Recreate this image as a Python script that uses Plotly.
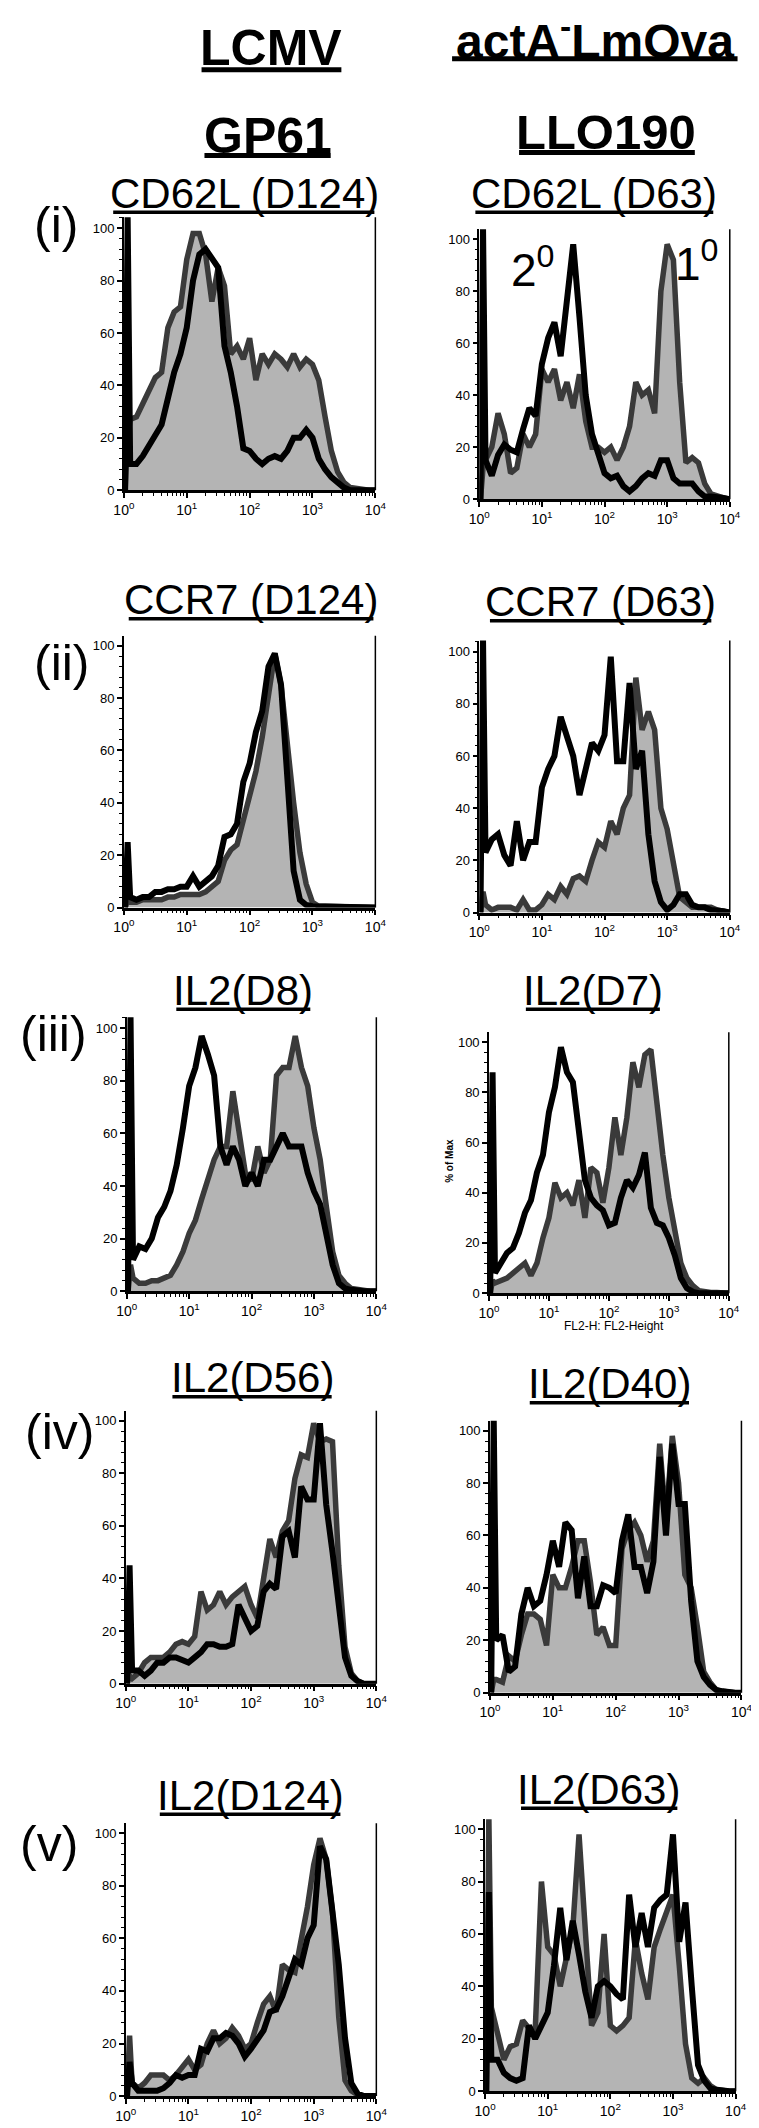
import plotly.graph_objects as go

W, H = 759, 2128
FONT = "Liberation Sans, Arial, Helvetica, sans-serif"

# ---------------- data ----------------
# positions on the log10 axis (decades) shared by all histograms
LOG_X = [0.02, 0.06, 0.1, 0.2, 0.3, 0.4, 0.5, 0.6, 0.7, 0.8, 0.9, 1.0,
         1.1, 1.2, 1.3, 1.4, 1.5, 1.6, 1.7, 1.8, 1.9, 2.0,
         2.1, 2.2, 2.3, 2.4, 2.5, 2.6, 2.7, 2.8, 2.9, 3.0,
         3.1, 3.2, 3.3, 3.4, 3.5, 3.6, 3.7, 3.8, 3.9, 4.0]

# (i) CD62L (D124)
p1_primary = [0, 20, 27, 28, 33, 38, 43, 45, 62, 68, 70, 88, 98, 98, 90, 72, 85, 78, 52, 55, 50, 58,
              42, 52, 48, 52, 50, 47, 52, 47, 50, 48, 42, 28, 15, 7, 3, 1, 0.5, 0, 0, 0]
p1_secondary = [0, 105, 10, 10, 13, 17, 20, 25, 35, 45, 52, 62, 80, 90, 92, 88, 85, 55, 45, 32, 16, 15,
                12, 10, 12, 13, 12, 15, 20, 20, 23, 20, 12, 8, 5, 3, 1, 0, 0, 0, 0, 0]
# (i) CD62L (D63)
p2_primary = [0, 12, 15, 20, 33, 25, 10, 12, 25, 20, 25, 50, 45, 50, 38, 45, 35, 48, 30, 20, 20, 18,
              20, 15, 20, 28, 45, 40, 42, 33, 80, 98, 92, 45, 14, 16, 14, 6, 2, 1, 0.5, 0]
p2_secondary = [0, 105, 15, 9, 17, 21, 19, 18, 27, 35, 32, 52, 62, 68, 55, 78, 98, 70, 40, 25, 18, 10,
                8, 9, 5, 3, 5, 8, 10, 9, 15, 15, 8, 6, 6, 6, 3, 1, 1, 1, 0.5, 0]
# (ii) CCR7 (D124)
p3_primary = [0, 3, 2, 2, 3, 3, 3, 3, 4, 4, 5, 5, 5, 5, 6, 8, 10, 18, 22, 24, 33, 42,
              52, 65, 82, 97, 85, 60, 40, 21, 9, 2, 0.5, 0.5, 0.5, 0.5, 0.5, 0.5, 0.5, 0.5, 0.5, 0]
p3_secondary = [0, 25, 4, 3, 4, 4, 6, 6, 7, 7, 8, 8, 12, 8, 10, 12, 16, 27, 28, 32, 48, 55,
                67, 75, 92, 97, 85, 50, 14, 3, 1, 0.5, 0.5, 0.5, 0.5, 0.5, 0.5, 0.5, 0.5, 0.5, 0.5, 0]
# (ii) CCR7 (D63)
p4_primary = [0, 8, 3, 1, 2, 2, 2, 1, 5, 1, 1, 3, 7, 5, 10, 7, 13, 14, 12, 20, 27, 25,
              35, 30, 40, 45, 90, 70, 77, 70, 40, 32, 20, 6, 4, 2, 2, 2, 2, 1, 0.5, 0]
p4_secondary = [0, 105, 23, 28, 30, 22, 18, 35, 20, 27, 27, 48, 55, 60, 75, 68, 60, 45, 55, 65, 62, 68,
                98, 58, 58, 88, 55, 62, 30, 12, 4, 1, 3, 7, 7, 3, 2, 2, 1, 1, 0.5, 0]
# (iii) IL2(D8)
p5_primary = [0, 10, 5, 3, 3, 4, 4, 5, 6, 10, 15, 22, 27, 35, 42, 50, 55, 55, 76, 60, 45, 42,
              55, 45, 50, 82, 85, 85, 97, 85, 78, 62, 50, 32, 15, 6, 3, 1, 0.5, 0, 0, 0]
p5_secondary = [0, 105, 12, 17, 16, 20, 28, 32, 38, 48, 62, 78, 85, 97, 90, 82, 55, 48, 55, 50, 40, 45,
                40, 50, 50, 55, 60, 55, 55, 55, 45, 38, 33, 22, 10, 3, 1, 0.5, 0, 0, 0, 0]
# (iii) IL2(D7)
p6_primary = [0, 5, 4, 5, 6, 8, 10, 12, 7, 12, 22, 30, 44, 38, 40, 35, 45, 30, 50, 48, 36, 50,
              70, 55, 70, 92, 82, 95, 97, 75, 55, 38, 25, 12, 6, 3, 1, 0.5, 0.3, 0.3, 0, 0]
p6_secondary = [0, 88, 8, 12, 16, 18, 24, 32, 37, 48, 55, 72, 82, 98, 88, 84, 65, 45, 38, 35, 33, 27,
                28, 38, 45, 42, 47, 56, 34, 28, 27, 22, 15, 6, 2, 0.5, 0, 0, 0, 0, 0, 0]
# (iv) IL2(D56)
p7_primary = [0, 3, 2, 4, 8, 10, 10, 10, 12, 15, 16, 15, 18, 35, 28, 30, 35, 30, 33, 35, 37, 30,
              25, 40, 55, 48, 58, 62, 78, 87, 86, 99, 92, 93, 92, 45, 14, 4, 1, 0, 0, 0]
p7_secondary = [0, 45, 5, 5, 3, 5, 8, 8, 10, 10, 9, 8, 10, 12, 15, 15, 14, 14, 15, 30, 25, 20,
                22, 35, 38, 36, 56, 58, 48, 75, 70, 70, 99, 68, 50, 28, 10, 3, 1, 0, 0, 0]
# (iv) IL2(D40)
p8_primary = [0, 5, 5, 4, 14, 12, 22, 30, 30, 28, 18, 45, 40, 40, 48, 58, 58, 42, 22, 25, 18, 18,
              55, 62, 65, 60, 50, 58, 95, 65, 98, 80, 45, 40, 25, 8, 4, 1, 0.5, 0, 0, 0]
p8_secondary = [0, 105, 20, 22, 8, 10, 30, 40, 33, 35, 45, 58, 48, 65, 62, 36, 52, 33, 33, 41, 40, 38,
                58, 68, 48, 48, 38, 50, 90, 60, 95, 72, 72, 35, 12, 6, 3, 1, 0.5, 0, 0, 0]
# (v) IL2(D124)
p9_primary = [0, 23, 5, 3, 5, 8, 8, 8, 6, 8, 11, 14, 10, 12, 20, 25, 20, 22, 26, 23, 18, 20,
              28, 35, 38, 32, 50, 48, 47, 60, 72, 88, 98, 90, 70, 30, 6, 2, 0.5, 0, 0, 0]
p9_secondary = [0, 13, 5, 2, 2, 2, 2, 3, 5, 8, 7, 8, 8, 18, 17, 22, 22, 24, 23, 20, 15, 18,
                22, 25, 32, 33, 38, 45, 52, 50, 60, 65, 95, 90, 72, 50, 22, 5, 1, 0, 0, 0]
# (v) IL2(D63)
p10_primary = [0, 105, 32, 22, 12, 17, 18, 27, 24, 23, 80, 55, 52, 40, 50, 62, 98, 60, 25, 30, 60, 25,
               23, 25, 28, 58, 45, 35, 55, 62, 68, 75, 48, 18, 5, 3, 5, 2, 0.5, 0, 0, 0]
p10_secondary = [0, 76, 12, 12, 7, 5, 4, 5, 25, 20, 25, 30, 48, 70, 50, 65, 52, 38, 28, 40, 42, 40,
                 37, 35, 75, 55, 68, 55, 70, 73, 75, 98, 57, 72, 40, 10, 4, 1, 0.5, 0, 0, 0]

PRIMARY = [p1_primary, p2_primary, p3_primary, p4_primary, p5_primary,
           p6_primary, p7_primary, p8_primary, p9_primary, p10_primary]
SECONDARY = [p1_secondary, p2_secondary, p3_secondary, p4_secondary, p5_secondary,
             p6_secondary, p7_secondary, p8_secondary, p9_secondary, p10_secondary]

PANEL_TITLES = ["CD62L (D124)", "CD62L (D63)", "CCR7 (D124)", "CCR7 (D63)",
                "IL2(D8)", "IL2(D7)", "IL2(D56)", "IL2(D40)", "IL2(D124)", "IL2(D63)"]
ROW_LABELS = ["(i)", "(ii)", "(iii)", "(iv)", "(v)"]
COLUMN_HEADERS = ["LCMV", "actA<sup>-</sup>LmOva"]
EPITOPES = ["GP61", "LLO190"]
X_TICK_VALUES = [1, 10, 100, 1000, 10000]
X_TICK_TEXT = ["10<sup>0</sup>", "10<sup>1</sup>", "10<sup>2</sup>", "10<sup>3</sup>", "10<sup>4</sup>"]
Y_TICK_VALUES = [0, 20, 40, 60, 80, 100]

# ---------------- layout geometry (pixels) ----------------
# x of 10^0, x of 10^4, y of 0, y of 100, y of top edge
PANEL_BOX = [
    (108, 367, 484, 221, 210),
    (474, 732, 493, 232, 222),
    (108, 367, 903, 640, 630),
    (474, 732, 908, 646, 635),
    (111, 368, 1288, 1024, 1013),
    (484, 731, 1290, 1038, 1028),
    (110, 368, 1682, 1418, 1408),
    (485, 744, 1691, 1428, 1418),
    (110, 368, 2096, 1832, 1822),
    (480, 738, 2091, 1828, 1818),
]
# title centre x, underline y, underline x0, x1
TITLE_POS = [
    (232, 205, 97, 366), (592, 205, 470, 715),
    (239, 613, 113, 365), (599, 615, 485, 713),
    (231, 1005, 162, 300), (591, 1005, 522, 660),
    (240, 1394, 158, 322), (608, 1400, 526, 690),
    (238, 1813, 145, 331), (597, 1807, 517, 678),
]
ROW_POS = [(38, 218), (44, 657), (36, 1030), (42, 1429), (31, 1843)]


def px(x):
    return x / W


def py(y):
    return 1 - y / H


fig = go.Figure()
annotations = []
shapes = []
minor_x = [k * 10 ** d for d in range(4) for k in range(2, 10)]
xs = [10 ** g for g in LOG_X]

for i in range(10):
    n = i + 1
    xn = "x" if n == 1 else f"x{n}"
    yn = "y" if n == 1 else f"y{n}"
    x0, x1, yb, y100, yt = PANEL_BOX[i]
    top = 100 * (yb - yt) / (yb - y100)

    fig.add_trace(go.Scatter(
        x=xs, y=PRIMARY[i], mode="lines", xaxis=xn, yaxis=yn,
        line=dict(color="#3a3a3a", width=5.5), fill="tozeroy", fillcolor="#b4b4b4",
        showlegend=False, hoverinfo="skip"))
    fig.add_trace(go.Scatter(
        x=xs, y=SECONDARY[i], mode="lines", xaxis=xn, yaxis=yn,
        line=dict(color="#000000", width=6),
        showlegend=False, hoverinfo="skip"))

    fig.layout["xaxis" if n == 1 else f"xaxis{n}"] = dict(
        type="log", range=[0, 4], domain=[px(x0), px(x1)], anchor=yn,
        showline=True, linecolor="black", linewidth=2.5, mirror=False,
        ticks="outside", ticklen=5, tickwidth=1.5, tickcolor="black",
        tickvals=X_TICK_VALUES, ticktext=X_TICK_TEXT,
        tickfont=dict(family=FONT, size=14, color="black"),
        minor=dict(tickvals=minor_x, ticks="outside", ticklen=3, tickwidth=1, tickcolor="black"),
        showgrid=False, zeroline=False, fixedrange=True)
    fig.layout["yaxis" if n == 1 else f"yaxis{n}"] = dict(
        range=[0, top], domain=[py(yb), py(yt)], anchor=xn,
        showline=True, linecolor="black", linewidth=1.5,
        ticks="outside", ticklen=5, tickwidth=1.5, tickcolor="black",
        tickvals=Y_TICK_VALUES,
        tickfont=dict(family=FONT, size=13, color="black"),
        minor=dict(dtick=4, ticks="outside", ticklen=3, tickwidth=1, tickcolor="black"),
        showgrid=False, zeroline=False, fixedrange=True)

    # right frame line
    shapes.append(dict(type="line", xref=f"{xn} domain", yref=f"{yn} domain",
                       x0=1, x1=1, y0=0, y1=1, line=dict(color="black", width=1.5)))

    # panel title with underline
    cx, uy, ux0, ux1 = TITLE_POS[i]
    annotations.append(dict(text=PANEL_TITLES[i], x=px(cx), y=py(uy - 19), xref="paper", yref="paper",
                            xanchor="center", yanchor="middle", showarrow=False,
                            font=dict(family=FONT, size=42, color="black")))
    shapes.append(dict(type="line", xref="paper", yref="paper", x0=px(ux0), x1=px(ux1),
                       y0=py(uy), y1=py(uy), line=dict(color="black", width=3.5)))

# row labels
for lab, (rx, ry) in zip(ROW_LABELS, ROW_POS):
    annotations.append(dict(text=lab, x=px(rx), y=py(ry), xref="paper", yref="paper",
                            xanchor="center", yanchor="middle", showarrow=False,
                            font=dict(family=FONT, size=50, color="black")))

# column headers
HEADER_POS = [(260, 40, 62, 188, 332, 50), (593, 30, 51, 446, 740, 48)]
for txt, (cx, cy, uy, ux0, ux1, fs) in zip(COLUMN_HEADERS, HEADER_POS):
    annotations.append(dict(text=f"<b>{txt}</b>", x=px(cx), y=py(cy), xref="paper", yref="paper",
                            xanchor="center", yanchor="middle", showarrow=False,
                            font=dict(family=FONT, size=fs, color="black")))
    shapes.append(dict(type="line", xref="paper", yref="paper", x0=px(ux0), x1=px(ux1),
                       y0=py(uy), y1=py(uy), line=dict(color="black", width=5)))

EPI_POS = [(256, 128, 148, 191, 321, 50), (605, 124, 145, 515, 696, 49)]
for txt, (cx, cy, uy, ux0, ux1, fs) in zip(EPITOPES, EPI_POS):
    annotations.append(dict(text=f"<b>{txt}</b>", x=px(cx), y=py(cy), xref="paper", yref="paper",
                            xanchor="center", yanchor="middle", showarrow=False,
                            font=dict(family=FONT, size=fs, color="black")))
    shapes.append(dict(type="line", xref="paper", yref="paper", x0=px(ux0), x1=px(ux1),
                       y0=py(uy), y1=py(uy), line=dict(color="black", width=5)))

# population markers inside panel (i) right
annotations.append(dict(text="2<sup>0</sup>", x=px(529), y=py(260), xref="paper", yref="paper",
                        xanchor="center", yanchor="middle", showarrow=False,
                        font=dict(family=FONT, size=46, color="black")))
annotations.append(dict(text="1<sup>0</sup>", x=px(698), y=py(254), xref="paper", yref="paper",
                        xanchor="center", yanchor="middle", showarrow=False,
                        font=dict(family=FONT, size=46, color="black")))

# axis titles on panel (iii) right
annotations.append(dict(text="<b>% of Max</b>", x=px(443), y=py(1157), xref="paper", yref="paper",
                        xanchor="center", yanchor="middle", showarrow=False, textangle=-90,
                        font=dict(family=FONT, size=10, color="black")))
annotations.append(dict(text="FL2-H: FL2-Height", x=px(613), y=py(1323), xref="paper", yref="paper",
                        xanchor="center", yanchor="middle", showarrow=False,
                        font=dict(family=FONT, size=12, color="black")))

fig.update_layout(
    width=W, height=H, margin=dict(l=0, r=0, t=0, b=0),
    paper_bgcolor="white", plot_bgcolor="white",
    font=dict(family=FONT, color="black"),
    annotations=annotations, shapes=shapes, showlegend=False)

fig.write_html("out.html")
